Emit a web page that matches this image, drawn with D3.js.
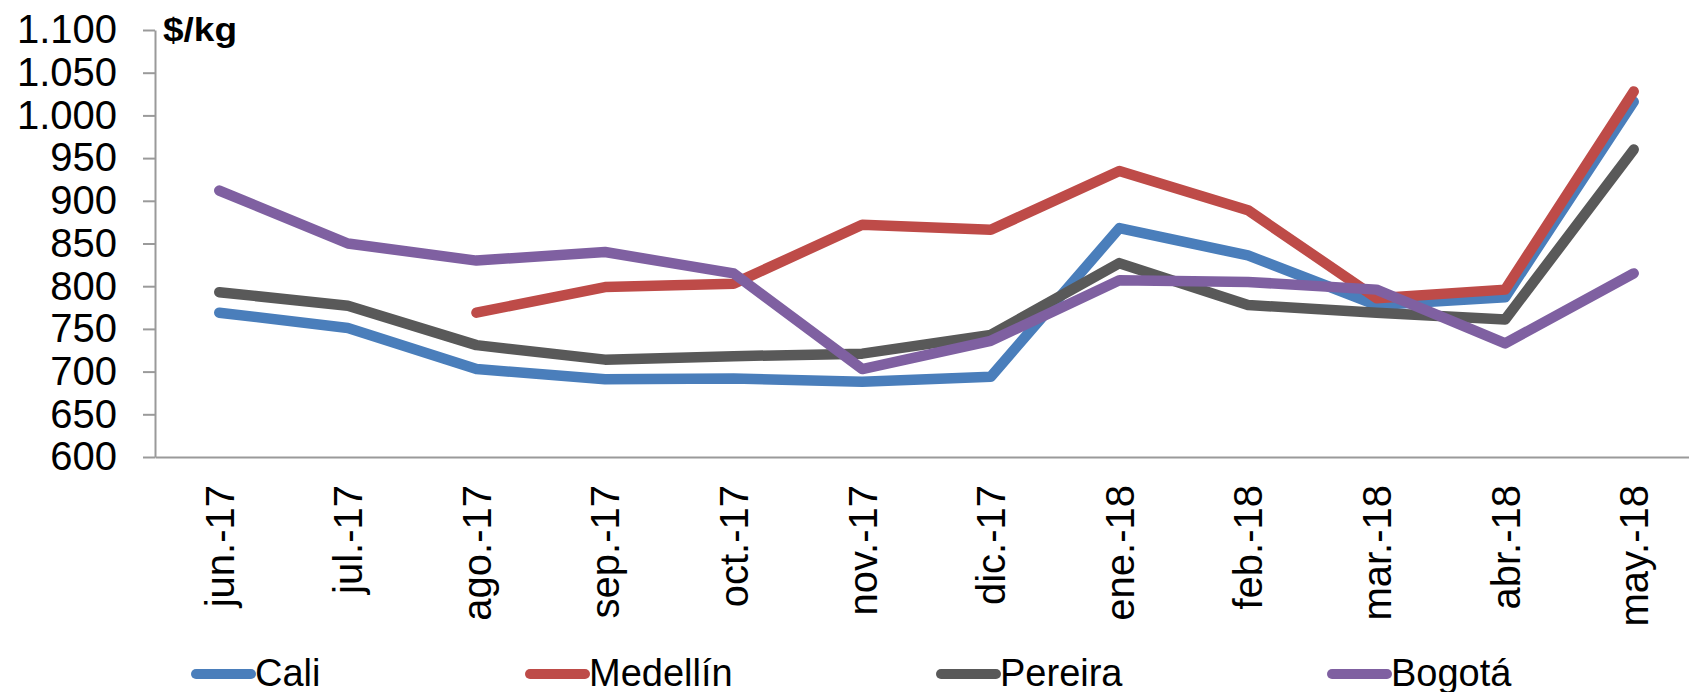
<!DOCTYPE html>
<html>
<head>
<meta charset="utf-8">
<script src="https://cdn.jsdelivr.net/npm/d3@7"></script>
<style>
  body { margin: 0; background: #fff; }
  text { font-family: "Liberation Sans", Arial, sans-serif; }
</style>
</head>
<body>
<svg width="1689" height="692"></svg>
<script>
var months = ["jun.-17", "jul.-17", "ago.-17", "sep.-17", "oct.-17", "nov.-17",
              "dic.-17", "ene.-18", "feb.-18", "mar.-18", "abr.-18", "may.-18"];
var cali     = [769, 751, 703, 691, 692, 688, 694, 868, 836, 778, 787, 1016];
var medellin = [null, null, 769, 799, 803, 872, 866, 935, 889, 786, 796, 1028];
var pereira  = [793, 777, 731, 714, 718, 721, 743, 827, 778, 769, 761, 960];
var bogota   = [912, 850, 830, 840, 815, 703, 736, 807, 805, 796, 733, 815];
var yTicks = [600, 650, 700, 750, 800, 850, 900, 950, 1000, 1050, 1100];

var series = [
  {name: "Cali", values: cali, color: "#4a7ebb"},
  {name: "Medellín", values: medellin, color: "#be4b48"},
  {name: "Pereira", values: pereira, color: "#595959"},
  {name: "Bogotá", values: bogota, color: "#7f60a1"}
];

var svg = d3.select("svg");
var plotL = 155, plotR = 1698, plotT = 30, plotB = 457;

var x = d3.scaleBand().domain(months).range([plotL, plotR]);
var y = d3.scaleLinear().domain([600, 1100]).range([plotB, plotT]);
var fmt = function(d) { return d3.format(",")(d).replace(/,/g, "."); };

// y axis
var yAxis = svg.append("g")
  .attr("transform", "translate(" + plotL + ",0)")
  .call(d3.axisLeft(y).tickValues(yTicks).tickSize(12).tickSizeOuter(0).tickPadding(26).tickFormat(fmt));
yAxis.select(".domain").attr("stroke", "#9a9a9a").attr("stroke-width", 2);
yAxis.selectAll(".tick line").attr("stroke", "#9a9a9a").attr("stroke-width", 2);
yAxis.selectAll(".tick text").attr("font-size", 40).attr("fill", "#000")
  .attr("font-family", "'Liberation Sans', Arial, sans-serif");

// x axis
var xAxis = svg.append("g")
  .attr("transform", "translate(0," + plotB + ")")
  .call(d3.axisBottom(x).tickSize(0).tickSizeOuter(0).tickPadding(0));
xAxis.select(".domain").attr("stroke", "#9a9a9a").attr("stroke-width", 2);
xAxis.selectAll(".tick text")
  .attr("font-size", 40).attr("fill", "#000")
  .attr("font-family", "'Liberation Sans', Arial, sans-serif")
  .attr("text-anchor", "end")
  .attr("transform", "translate(0,28) rotate(-90)")
  .attr("x", 0).attr("y", 0).attr("dy", "0.36em");

// unit label
svg.append("text")
  .attr("x", 163).attr("y", 41)
  .attr("font-size", 34).attr("font-weight", "bold")
  .attr("textLength", 74).attr("lengthAdjust", "spacingAndGlyphs")
  .text("$/kg");

// lines
var line = d3.line()
  .defined(function(d) { return d != null; })
  .x(function(d, i) { return x(months[i]) + x.bandwidth() / 2; })
  .y(function(d) { return y(d); });

svg.append("g").selectAll("path").data(series).enter().append("path")
  .attr("d", function(s) { return line(s.values); })
  .attr("fill", "none")
  .attr("stroke", function(s) { return s.color; })
  .attr("stroke-width", 10.5)
  .attr("stroke-linecap", "round")
  .attr("stroke-linejoin", "round");

// legend
var legendX = [192, 526, 937, 1328];
var lg = svg.append("g").selectAll("g").data(series).enter().append("g")
  .attr("transform", function(s, i) { return "translate(" + legendX[i] + ",674)"; });
lg.append("line")
  .attr("x1", 4).attr("x2", 59).attr("y1", 0).attr("y2", 0)
  .attr("stroke", function(s) { return s.color; })
  .attr("stroke-width", 10).attr("stroke-linecap", "round");
lg.append("text")
  .attr("x", 63).attr("y", 12)
  .attr("font-size", 38)
  .text(function(s) { return s.name; });
</script>
</body>
</html>
